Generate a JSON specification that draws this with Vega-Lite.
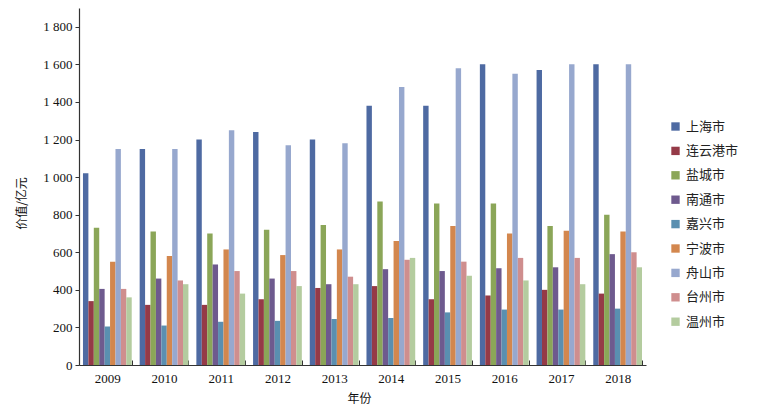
{
  "$schema": "https://vega.github.io/schema/vega-lite/v6.json",
  "width": 567,
  "height": 357,
  "autosize": {"type": "none"},
  "padding": {"left": 79, "top": 8, "right": 118, "bottom": 48},
  "background": "white",
  "config": {
    "view": {"stroke": null},
    "font": "Liberation Serif",
    "axis": {"grid": false, "domainColor": "#333333", "tickColor": "#333333", "labelColor": "#111111", "titleColor": "#111111", "labelFont": "Liberation Serif", "labelFontSize": 13, "titleFontWeight": "normal", "titleFont": "Noto Sans CJK SC", "titleFontSize": 12}
  },
  "data": {
    "values": [
      {"year": "2009", "city": "上海市", "value": 1020},
      {"year": "2009", "city": "连云港市", "value": 340},
      {"year": "2009", "city": "盐城市", "value": 730},
      {"year": "2009", "city": "南通市", "value": 405},
      {"year": "2009", "city": "嘉兴市", "value": 205},
      {"year": "2009", "city": "宁波市", "value": 550},
      {"year": "2009", "city": "舟山市", "value": 1150},
      {"year": "2009", "city": "台州市", "value": 405},
      {"year": "2009", "city": "温州市", "value": 360},
      {"year": "2010", "city": "上海市", "value": 1150},
      {"year": "2010", "city": "连云港市", "value": 320},
      {"year": "2010", "city": "盐城市", "value": 710},
      {"year": "2010", "city": "南通市", "value": 460},
      {"year": "2010", "city": "嘉兴市", "value": 210},
      {"year": "2010", "city": "宁波市", "value": 580},
      {"year": "2010", "city": "舟山市", "value": 1150},
      {"year": "2010", "city": "台州市", "value": 450},
      {"year": "2010", "city": "温州市", "value": 430},
      {"year": "2011", "city": "上海市", "value": 1200},
      {"year": "2011", "city": "连云港市", "value": 320},
      {"year": "2011", "city": "盐城市", "value": 700},
      {"year": "2011", "city": "南通市", "value": 535},
      {"year": "2011", "city": "嘉兴市", "value": 230},
      {"year": "2011", "city": "宁波市", "value": 615},
      {"year": "2011", "city": "舟山市", "value": 1250},
      {"year": "2011", "city": "台州市", "value": 500},
      {"year": "2011", "city": "温州市", "value": 380},
      {"year": "2012", "city": "上海市", "value": 1240},
      {"year": "2012", "city": "连云港市", "value": 350},
      {"year": "2012", "city": "盐城市", "value": 720},
      {"year": "2012", "city": "南通市", "value": 460},
      {"year": "2012", "city": "嘉兴市", "value": 235},
      {"year": "2012", "city": "宁波市", "value": 585},
      {"year": "2012", "city": "舟山市", "value": 1170},
      {"year": "2012", "city": "台州市", "value": 500},
      {"year": "2012", "city": "温州市", "value": 420},
      {"year": "2013", "city": "上海市", "value": 1200},
      {"year": "2013", "city": "连云港市", "value": 410},
      {"year": "2013", "city": "盐城市", "value": 745},
      {"year": "2013", "city": "南通市", "value": 430},
      {"year": "2013", "city": "嘉兴市", "value": 245},
      {"year": "2013", "city": "宁波市", "value": 615},
      {"year": "2013", "city": "舟山市", "value": 1180},
      {"year": "2013", "city": "台州市", "value": 470},
      {"year": "2013", "city": "温州市", "value": 430},
      {"year": "2014", "city": "上海市", "value": 1380},
      {"year": "2014", "city": "连云港市", "value": 420},
      {"year": "2014", "city": "盐城市", "value": 870},
      {"year": "2014", "city": "南通市", "value": 510},
      {"year": "2014", "city": "嘉兴市", "value": 250},
      {"year": "2014", "city": "宁波市", "value": 660},
      {"year": "2014", "city": "舟山市", "value": 1480},
      {"year": "2014", "city": "台州市", "value": 560},
      {"year": "2014", "city": "温州市", "value": 570},
      {"year": "2015", "city": "上海市", "value": 1380},
      {"year": "2015", "city": "连云港市", "value": 350},
      {"year": "2015", "city": "盐城市", "value": 860},
      {"year": "2015", "city": "南通市", "value": 500},
      {"year": "2015", "city": "嘉兴市", "value": 280},
      {"year": "2015", "city": "宁波市", "value": 740},
      {"year": "2015", "city": "舟山市", "value": 1580},
      {"year": "2015", "city": "台州市", "value": 550},
      {"year": "2015", "city": "温州市", "value": 475},
      {"year": "2016", "city": "上海市", "value": 1600},
      {"year": "2016", "city": "连云港市", "value": 370},
      {"year": "2016", "city": "盐城市", "value": 860},
      {"year": "2016", "city": "南通市", "value": 515},
      {"year": "2016", "city": "嘉兴市", "value": 295},
      {"year": "2016", "city": "宁波市", "value": 700},
      {"year": "2016", "city": "舟山市", "value": 1550},
      {"year": "2016", "city": "台州市", "value": 570},
      {"year": "2016", "city": "温州市", "value": 450},
      {"year": "2017", "city": "上海市", "value": 1570},
      {"year": "2017", "city": "连云港市", "value": 400},
      {"year": "2017", "city": "盐城市", "value": 740},
      {"year": "2017", "city": "南通市", "value": 520},
      {"year": "2017", "city": "嘉兴市", "value": 295},
      {"year": "2017", "city": "宁波市", "value": 715},
      {"year": "2017", "city": "舟山市", "value": 1600},
      {"year": "2017", "city": "台州市", "value": 570},
      {"year": "2017", "city": "温州市", "value": 430},
      {"year": "2018", "city": "上海市", "value": 1600},
      {"year": "2018", "city": "连云港市", "value": 380},
      {"year": "2018", "city": "盐城市", "value": 800},
      {"year": "2018", "city": "南通市", "value": 590},
      {"year": "2018", "city": "嘉兴市", "value": 300},
      {"year": "2018", "city": "宁波市", "value": 710},
      {"year": "2018", "city": "舟山市", "value": 1600},
      {"year": "2018", "city": "台州市", "value": 600},
      {"year": "2018", "city": "温州市", "value": 520}
    ]
  },
  "mark": {"type": "bar"},
  "encoding": {
    "x": {
      "field": "year", "type": "nominal", "title": "年份",
      "scale": {"paddingInner": 0.14, "paddingOuter": 0.07},
      "axis": {"labelAngle": 0, "tickBand": "extent", "tickSize": -5, "labelPadding": 12, "titlePadding": 8, "titleX": 280, "domainWidth": 1.2}
    },
    "xOffset": {"field": "city", "type": "nominal", "sort": ["上海市", "连云港市", "盐城市", "南通市", "嘉兴市", "宁波市", "舟山市", "台州市", "温州市"], "scale": {"paddingInner": 0, "paddingOuter": 0}},
    "y": {
      "field": "value", "type": "quantitative", "title": "价值/亿元",
      "scale": {"domain": [0, 1900], "nice": false},
      "axis": {"values": [0, 200, 400, 600, 800, 1000, 1200, 1400, 1600, 1800], "labelExpr": "replace(format(datum.value, ','), ',', ' ')", "tickSize": 4, "labelPadding": 3, "titlePadding": 14, "titleY": 195, "domainWidth": 1.2}
    },
    "color": {
      "field": "city", "type": "nominal", "title": null,
      "sort": ["上海市", "连云港市", "盐城市", "南通市", "嘉兴市", "宁波市", "舟山市", "台州市", "温州市"],
      "scale": {"domain": ["上海市", "连云港市", "盐城市", "南通市", "嘉兴市", "宁波市", "舟山市", "台州市", "温州市"], "range": ["#4E6AA2", "#953A47", "#8BA658", "#6E5A8E", "#5A8FB0", "#D3874E", "#97A8CE", "#CF8E8E", "#B4CC9F"]},
      "legend": {"orient": "none", "legendX": 590, "legendY": 112, "symbolType": "square", "symbolSize": 70, "labelFont": "Noto Sans CJK SC", "labelFontSize": 13, "labelColor": "#222222", "rowPadding": 10.4, "symbolStrokeWidth": 0, "labelOffset": 4}
    }
  }
}
